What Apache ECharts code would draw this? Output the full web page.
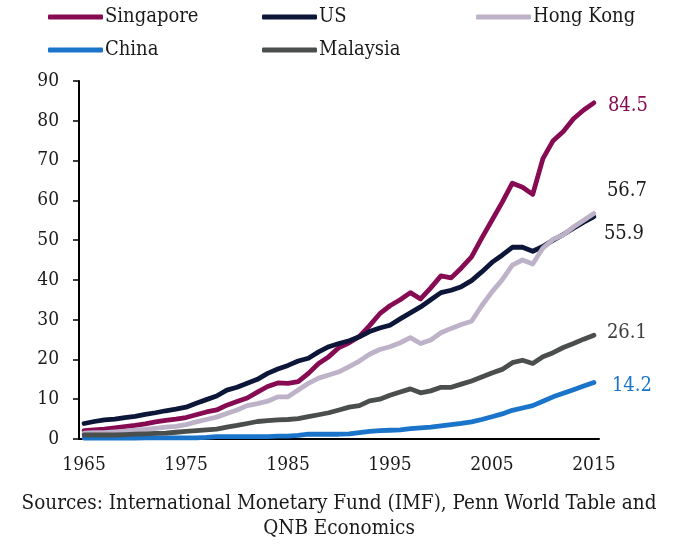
<!DOCTYPE html>
<html>
<head>
<meta charset="utf-8">
<script src="https://cdn.jsdelivr.net/npm/echarts@6/dist/echarts.min.js"></script>
<style>
  html, body { margin: 0; padding: 0; background: #fff; }
  #chart { width: 678px; height: 545px; }
</style>
</head>
<body>
<div id="chart"></div>
<script>
const years = [];
for (let y = 1965; y <= 2015; y++) years.push(String(y));

const singapore = [2.1, 2.3, 2.5, 2.8, 3.1, 3.4, 3.8, 4.3, 4.7, 5.0,
  5.4, 6.1, 6.8, 7.3, 8.5, 9.4, 10.3, 11.8, 13.2, 14.1,
  14.0, 14.4, 16.5, 19.0, 20.7, 23.0, 24.2, 25.8, 28.5, 31.5,
  33.5, 35.0, 36.8, 35.2, 38.0, 41.0, 40.5, 43.0, 45.8, 50.5,
  55.0, 59.5, 64.3, 63.3, 61.5, 70.5, 75.0, 77.3, 80.5, 82.7, 84.5];
const us = [3.9, 4.4, 4.8, 5.0, 5.4, 5.7, 6.2, 6.6, 7.1, 7.5,
  8.0, 9.0, 9.9, 10.8, 12.3, 13.0, 14.0, 15.0, 16.5, 17.6,
  18.5, 19.6, 20.3, 21.9, 23.2, 24.0, 24.7, 25.7, 27.0, 27.9,
  28.6, 30.2, 31.7, 33.2, 35.0, 36.8, 37.4, 38.3, 39.8, 42.0,
  44.4, 46.2, 48.2, 48.2, 47.2, 48.4, 50.0, 51.4, 53.0, 54.5, 55.9];
const hongKong = [1.5, 1.6, 1.6, 1.8, 2.0, 2.2, 2.4, 2.7, 3.0, 3.2,
  3.6, 4.3, 4.9, 5.5, 6.4, 7.3, 8.4, 8.9, 9.5, 10.6,
  10.6, 12.3, 14.0, 15.3, 16.1, 16.9, 18.2, 19.6, 21.3, 22.5,
  23.2, 24.2, 25.5, 24.0, 24.9, 26.7, 27.8, 28.8, 29.6, 33.5,
  37.0, 40.0, 43.7, 45.0, 44.0, 48.0, 50.2, 51.3, 53.3, 55.0, 56.7];
const china = [0.2, 0.2, 0.2, 0.2, 0.2, 0.2, 0.3, 0.3, 0.3, 0.3,
  0.3, 0.3, 0.4, 0.6, 0.6, 0.6, 0.6, 0.6, 0.6, 0.7,
  0.7, 0.9, 1.2, 1.2, 1.2, 1.2, 1.3, 1.6, 1.9, 2.1,
  2.2, 2.3, 2.6, 2.8, 3.0, 3.3, 3.6, 3.9, 4.3, 4.9,
  5.6, 6.3, 7.2, 7.8, 8.4, 9.5, 10.6, 11.5, 12.4, 13.3, 14.2];
const malaysia = [1.0, 1.0, 1.0, 1.0, 1.1, 1.2, 1.3, 1.4, 1.5, 1.7,
  1.9, 2.1, 2.3, 2.5, 3.0, 3.4, 3.9, 4.4, 4.6, 4.8,
  4.9, 5.1, 5.6, 6.1, 6.6, 7.3, 8.0, 8.4, 9.6, 10.0,
  11.0, 11.8, 12.6, 11.6, 12.1, 13.0, 13.0, 13.8, 14.6, 15.6,
  16.6, 17.5, 19.2, 19.8, 19.0, 20.7, 21.7, 23.0, 24.0, 25.1, 26.1];

const sourceLines = [
  "Sources: International Monetary Fund (IMF), Penn World Table and",
  "QNB Economics",
];

const font = "'DejaVu Serif Condensed', 'DejaVu Serif', serif";
const textColor = "#1a1a1a";

// name, data, line colour, end label colour, end label offset
const seriesDefs = [
  ["Singapore", singapore, "#870b52", "#870b52", [0, 3]],
  ["US", us, "#0c1639", textColor, [-4, 17]],
  ["Hong Kong", hongKong, "#bdb2c8", textColor, [-1, -23]],
  ["China", china, "#1a74c9", "#1a74c9", [4, 3]],
  ["Malaysia", malaysia, "#4a4e4d", "#404040", [-1, -2]],
];

const legendPos = [
  ["Singapore", 48, 7],
  ["US", 262, 7],
  ["Hong Kong", 476, 7],
  ["China", 48, 40],
  ["Malaysia", 262, 40],
];

const chart = echarts.init(document.getElementById("chart"));
chart.setOption({
  animation: false,
  textStyle: { fontFamily: font },
  title: sourceLines.map((t, i) => ({
    text: t,
    left: "center",
    top: 493 + i * 25,
    padding: 0,
    textStyle: { fontFamily: font, fontSize: 20.5, fontWeight: "normal", color: textColor },
  })),
  legend: legendPos.map(([name, left, top]) => ({
    data: [name],
    left: left,
    top: top,
    itemWidth: 55,
    itemHeight: 5,
    itemGap: 0,
    icon: "roundRect",
    padding: 0,
    textStyle: { fontFamily: font, fontSize: 20, color: textColor, padding: [0, 0, 0, -3], lineHeight: 20 },
  })),
  grid: { left: 79, right: 79, top: 81, bottom: 106 },
  xAxis: {
    type: "category",
    data: years,
    boundaryGap: true,
    axisLine: { lineStyle: { color: "#000", width: 2 } },
    axisTick: { interval: 2, length: 6, lineStyle: { color: "#000", width: 1.5 } },
    axisLabel: { interval: 9, margin: 17, fontSize: 19, color: textColor, fontFamily: font },
    splitLine: { show: false },
  },
  yAxis: {
    type: "value",
    min: 0,
    max: 90,
    interval: 10,
    axisLine: { show: true, lineStyle: { color: "#000", width: 2 } },
    axisTick: { show: true, length: 6, lineStyle: { color: "#000", width: 1.5 } },
    axisLabel: { margin: 20, fontSize: 19, color: textColor, fontFamily: font },
    splitLine: { show: false },
  },
  series: seriesDefs.map(([name, data, color, labelColor, offset]) => ({
    name: name,
    type: "line",
    data: data,
    symbol: "none",
    color: color,
    lineStyle: { width: 4.8, color: color, cap: "round", join: "round" },
    endLabel: {
      show: true,
      distance: 14,
      offset: offset,
      formatter: (p) => Number(p.value).toFixed(1),
      color: labelColor,
      fontSize: 20,
      fontFamily: font,
    },
  })),
});
</script>
</body>
</html>
